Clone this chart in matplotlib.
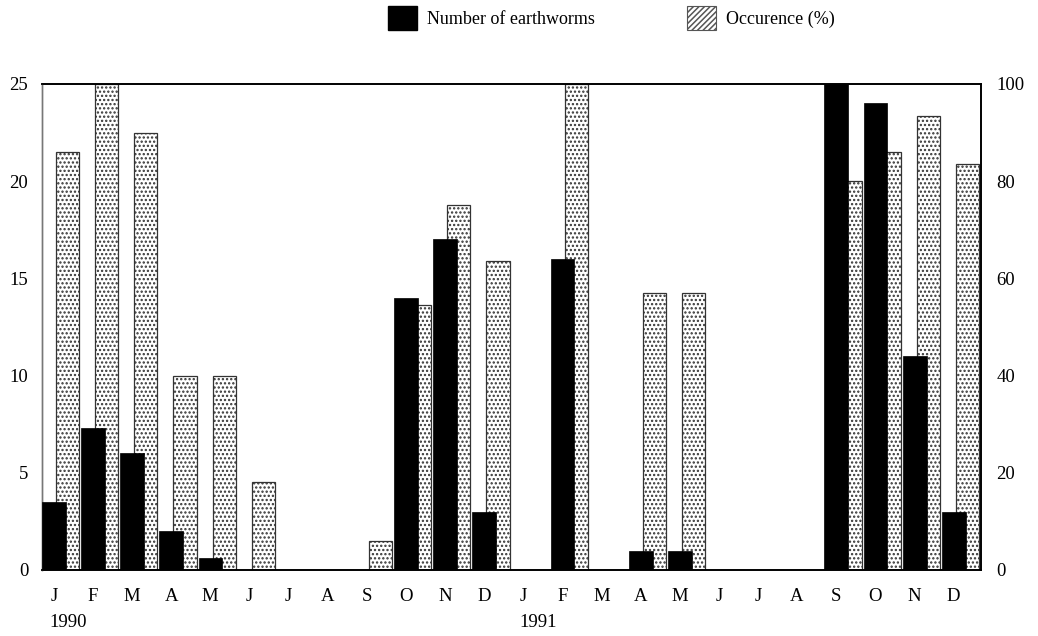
import numpy as np
import matplotlib
matplotlib.use("Agg")
import matplotlib.pyplot as plt
from matplotlib.patches import Patch
from matplotlib.transforms import blended_transform_factory

plt.rcParams['font.family'] = ['Liberation Serif', 'DejaVu Serif']
plt.rcParams['hatch.linewidth'] = 1.1

# monthly samples, Jan 1990 .. Dec 1991
months = ['J', 'F', 'M', 'A', 'M', 'J', 'J', 'A', 'S', 'O', 'N', 'D'] * 2
years = ['1990', '1991']
earthworms = [3.5, 7.3, 6.0, 2.0, 0.6, 0, 0, 0, 0, 14.0, 17.0, 3.0,
              0, 16.0, 0, 1.0, 1.0, 0, 0, 0, 25.0, 24.0, 11.0, 3.0]
occurence = [86, 100, 90, 40, 40, 18, 0, 0, 6, 54.5, 75, 63.5,
             0, 100, 0, 57, 57, 0, 0, 0, 80, 86, 93.5, 83.5]

n = len(months)
x = np.arange(n)

fig = plt.figure(figsize=(10.38, 6.36), dpi=100)
ax = fig.add_axes([0.0405, 0.1038, 0.9045, 0.7642])  # occurence, right axis
ax2 = ax.twinx()                                     # earthworms, left axis

ax.bar(x + 0.36, occurence, width=0.59, align='edge', color='white',
       edgecolor='#333333', linewidth=0.9, hatch='....', zorder=2)
ax2.bar(x, earthworms, width=0.61, align='edge', color='black',
        edgecolor='black', linewidth=0.5, zorder=3)

ax.set_xlim(0, n)
ax.set_ylim(0, 100)
ax2.set_ylim(0, 25)

ax.yaxis.tick_right()
ax.yaxis.set_label_position('right')
ax2.yaxis.tick_left()
ax.set_yticks([0, 20, 40, 60, 80, 100])
ax2.set_yticks([0, 5, 10, 15, 20, 25])

ax.set_xticks(x + 0.3)
ax.set_xticklabels(months)
ax.tick_params(axis='both', length=0, labelsize=13.5)
ax2.tick_params(axis='both', length=0, labelsize=13.5)
ax.tick_params(axis='x', pad=13)
ax.tick_params(axis='y', pad=11)
ax2.tick_params(axis='y', pad=10)

trans = blended_transform_factory(ax.transData, ax.transAxes)
for i, yr in enumerate(years):
    ax.text(12 * i + 0.2, -0.09, yr, transform=trans, ha='left', va='top',
            fontsize=13.5)

for a in (ax, ax2):
    for s in ('top', 'right', 'bottom'):
        a.spines[s].set_color('black')
        a.spines[s].set_linewidth(1.2)
    a.spines['left'].set_color('#777777')
    a.spines['left'].set_linewidth(1.0)

handles = [Patch(facecolor='black', edgecolor='black'),
           Patch(facecolor='white', edgecolor='#555555', hatch='//////', linewidth=0.8)]
fig.legend(handles, ['Number of earthworms', 'Occurence (%)'],
           loc='upper left', bbox_to_anchor=(388 / 1038, 1 - 6 / 636),
           ncol=2, frameon=False, fontsize=13, borderpad=0, borderaxespad=0,
           handlelength=1.6, handleheight=1.65, handletextpad=0.55,
           columnspacing=5.1)

fig.savefig('out.png', dpi=100)
